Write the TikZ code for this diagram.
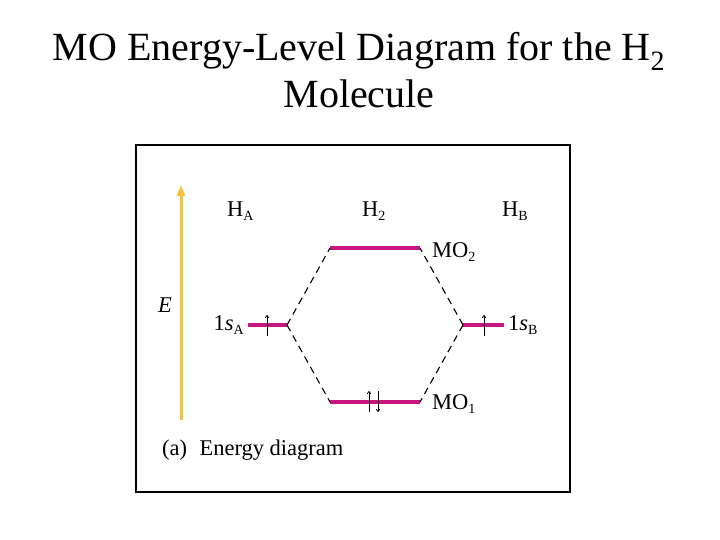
\documentclass[tikz,border=0pt]{standalone}
\usepackage{fontspec}
\setmainfont{Liberation Serif}
\usetikzlibrary{positioning, arrows.meta}
\definecolor{levelmag}{RGB}{200,22,128}
\definecolor{energyyel}{RGB}{246,194,62}
\newcommand\lowsub[1]{\raisebox{-0.22em}{\fontsize{14}{14}\selectfont #1}}
\begin{document}
\begin{tikzpicture}[x=1pt, y=-1pt,
lvl/.style={draw=levelmag, line width=3.2pt},
link/.style={dash pattern=on 7pt off 5pt, line width=1.1pt},
lbl/.style={font=\fontsize{22.5}{24}\selectfont, inner sep=0pt, anchor=base west},
spin/.style={-{To[length=3pt,width=4pt]}, line width=0.8pt}
]
\useasboundingbox (0,0) rectangle (720,540);

\node (title) [align=center, font=\fontsize{40}{47}\selectfont, inner sep=0pt]
  at (359,70) {MO Energy-Level Diagram for the H\textsubscript{2}\\Molecule};

\draw[line width=1.8pt] (136,145) rectangle (570,492);

% energy axis
\coordinate (ebot) at (181,420);
\coordinate (etop) at (181,185);
\draw[energyyel, line width=3pt, -{Triangle[length=11pt,width=8pt]}] (ebot) -- (etop);
\node (elbl) [lbl, font=\fontsize{22.5}{24}\selectfont\itshape] at (158,312) {E};

% levels
\coordinate (sAl) at (248,325); \coordinate (sAr) at (287,325);
\coordinate (mo2l) at (330,248); \coordinate (mo2r) at (420,248);
\coordinate (mo1l) at (330,402); \coordinate (mo1r) at (420,402);
\coordinate (sBl) at (463,325); \coordinate (sBr) at (504,325);
\draw[lvl] (sAl) -- (sAr);
\draw[lvl] (sBl) -- (sBr);
\draw[lvl] (mo2l) -- (mo2r);
\draw[lvl] (mo1l) -- (mo1r);

\draw[link] (sAr) -- (mo2l) (sAr) -- (mo1l);
\draw[link] (sBl) -- (mo2r) (sBl) -- (mo1r);

% electrons
\draw[spin] (267,336) -- (267,315);
\draw[spin] (484,336) -- (484,315);
\draw[spin] (369,412) -- (369,391);
\draw[spin] (378,391) -- (378,412);

% labels
\node (hA) [lbl] at (227,216) {H\lowsub{A}};
\node (h2) [lbl] at (362,216) {H\lowsub{2}};
\node (hB) [lbl] at (502,216) {H\lowsub{B}};
\node (sAlbl) [lbl, anchor=base east] at (244,330) {1\textit{s}\lowsub{A}};
\node (sBlbl) [lbl] at (508,330) {1\textit{s}\lowsub{B}};
\node (mo2lbl) [lbl] at (432,257) {MO\lowsub{2}};
\node (mo1lbl) [lbl] at (432,409) {MO\lowsub{1}};
\node (cap) [lbl] at (162,455) {(a)\hspace{0.3em} Energy diagram};
\end{tikzpicture}
\end{document}
